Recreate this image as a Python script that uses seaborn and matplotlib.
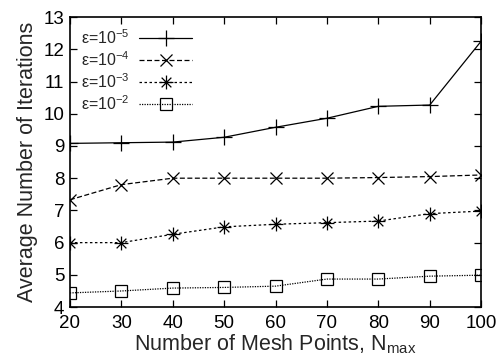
import matplotlib
matplotlib.use("Agg")
import matplotlib.pyplot as plt
import seaborn as sns
from matplotlib.path import Path

mesh_points = [20, 30, 40, 50, 60, 70, 80, 90, 100]
eps_1e5 = [9.08, 9.10, 9.12, 9.27, 9.58, 9.86, 10.23, 10.27, 12.25]
eps_1e4 = [7.33, 7.80, 8.00, 8.00, 8.00, 8.00, 8.02, 8.05, 8.10]
eps_1e3 = [6.00, 6.00, 6.26, 6.49, 6.57, 6.62, 6.67, 6.90, 6.98]
eps_1e2 = [4.44, 4.50, 4.59, 4.61, 4.65, 4.87, 4.87, 4.96, 4.99]
labels = [r"$\mathregular{\varepsilon}$=10$^{-5}$", r"$\mathregular{\varepsilon}$=10$^{-4}$",
          r"$\mathregular{\varepsilon}$=10$^{-3}$", r"$\mathregular{\varepsilon}$=10$^{-2}$"]

sns.set_style("ticks")
plt.rcParams["font.family"] = ["Liberation Sans", "DejaVu Sans"]
plt.rcParams["mathtext.fontset"] = "custom"
plt.rcParams["mathtext.rm"] = "Liberation Sans"
plt.rcParams["mathtext.it"] = "Liberation Sans"

# gnuplot style star: + and x on top of each other
star = Path([(-1, 0), (1, 0), (0, -1), (0, 1), (-0.7, -0.7), (0.7, 0.7), (-0.7, 0.7), (0.7, -0.7)],
            [Path.MOVETO, Path.LINETO] * 4)

fig, ax = plt.subplots(figsize=(4.96, 3.63), dpi=100)
fig.subplots_adjust(left=0.141, right=0.970, bottom=0.154, top=0.953)

series = [
    (eps_1e5, "+", "-", 11),
    (eps_1e4, "x", (0, (4, 2)), 9),
    (eps_1e3, star, (0, (2, 2)), 10),
    (eps_1e2, "s", (0, (1, 1)), 9),
]
for (vals, mk, ls, ms), lab in zip(series, labels):
    sns.lineplot(x=mesh_points, y=vals, ax=ax, color="black", linewidth=0.9,
                 linestyle=ls, marker=mk, markersize=ms, markerfacecolor="none",
                 markeredgecolor="black", markeredgewidth=0.9, label=lab)

ax.set_xlim(20, 100)
ax.set_ylim(4, 13)
ax.set_xticks(range(20, 101, 10))
ax.set_yticks(range(4, 14))
ax.tick_params(direction="in", length=5, width=0.9, top=True, right=True,
               labelsize=13.5, colors="black")
ax.tick_params(axis="x", pad=6)
ax.tick_params(axis="y", pad=4)
for s in ax.spines.values():
    s.set_visible(True)
    s.set_linewidth(1.2)
    s.set_color("black")

ax.set_xlabel(r"Number of Mesh Points, N$_{\mathregular{max}}$", fontsize=15.5, labelpad=0)
ax.set_ylabel("Average Number of Iterations", fontsize=15.5, labelpad=4)

ax.legend(loc="upper left", frameon=False, markerfirst=False, fontsize=11.5,
          handlelength=3.3, handletextpad=0.6, labelspacing=0.2, borderaxespad=0.3,
          bbox_to_anchor=(0.0, 1.0))

fig.savefig("out.png", dpi=100)
